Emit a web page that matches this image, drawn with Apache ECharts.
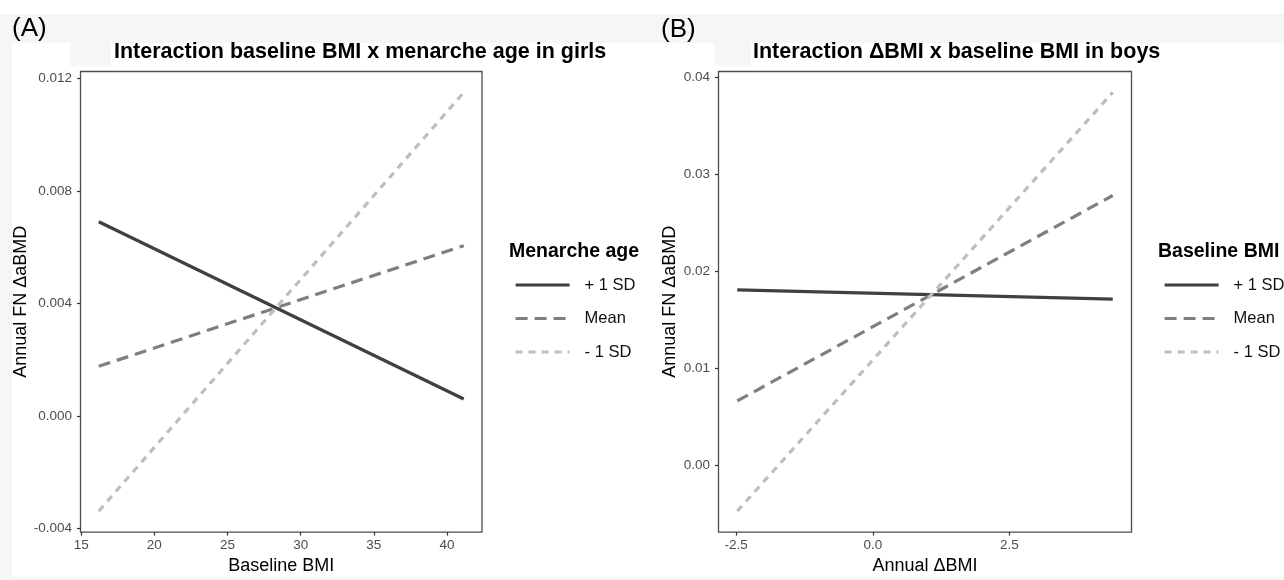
<!DOCTYPE html>
<html><head><meta charset="utf-8">
<script src="https://cdn.jsdelivr.net/npm/echarts@6/dist/echarts.min.js"></script>
<style>html,body{margin:0;padding:0;background:#fff;} #c{width:1284px;height:580px;}</style>
</head><body><div id="c"></div>
<script>
// ---- data ----
const seriesNames = ['+ 1 SD', 'Mean', '- 1 SD'];
// Panel A: baseline BMI x menarche age (girls)
const aX = [16.2, 41.15];
const aPlus = [0.0069, 0.0006];
const aMean = [0.00176, 0.00605];
const aMinus = [-0.00339, 0.0115];
const aXTicks = [15, 20, 25, 30, 35, 40];
const aYTicks = [-0.004, 0, 0.004, 0.008, 0.012];
// Panel B: delta BMI x baseline BMI (boys)
const bX = [-2.48, 4.39];
const bPlus = [0.0181, 0.01714];
const bMean = [0.00665, 0.02783];
const bMinus = [-0.00472, 0.03846];
const bXTicks = [-2.5, 0, 2.5];
const bYTicks = [0, 0.01, 0.02, 0.03, 0.04];

const FONT = '"Liberation Sans", Arial, Helvetica, sans-serif';
function expand(arrs) {
  const all = [].concat(...arrs);
  const mn = Math.min(...all), mx = Math.max(...all), r = mx - mn;
  return [mn - 0.05 * r, mx + 0.05 * r];
}
const styles = [
  { color: '#404040', width: 3.2, type: 'solid' },
  { color: '#7f7f7f', width: 3.2, type: [12, 7] },
  { color: '#bebebe', width: 3.2, type: [7, 6] }
];
function mkSeries(idx, xs, ys) {
  return ys.map((arr, k) => ({
    name: seriesNames[k], type: 'line', xAxisIndex: idx, yAxisIndex: idx,
    symbol: 'none', silent: true, animation: false,
    lineStyle: { color: styles[k].color, width: styles[k].width, type: styles[k].type, cap: 'butt' },
    itemStyle: { color: styles[k].color },
    data: xs.map((v, i) => [v, arr[i]])
  }));
}
function mkX(idx, range, ticks, name, dec) {
  return {
    gridIndex: idx, type: 'value', min: range[0], max: range[1],
    axisLine: { show: false, onZero: false }, splitLine: { show: false },
    axisTick: { show: true, length: 3.5, lineStyle: { color: '#333', width: 1.2 }, customValues: ticks },
    axisLabel: { customValues: ticks, formatter: v => Number(v).toFixed(dec), color: '#4d4d4d', fontSize: 13.5, margin: 6, fontFamily: FONT },
    name: name, nameLocation: 'middle', nameGap: 24,
    nameTextStyle: { fontSize: 18, color: '#000', fontFamily: FONT }
  };
}
function mkY(idx, range, ticks, name, dec, gap) {
  return {
    gridIndex: idx, type: 'value', min: range[0], max: range[1],
    axisLine: { show: false, onZero: false }, splitLine: { show: false },
    axisTick: { show: true, length: 3.5, lineStyle: { color: '#333', width: 1.2 }, customValues: ticks },
    axisLabel: { customValues: ticks, formatter: v => Number(v).toFixed(dec), color: '#4d4d4d', fontSize: 13.5, margin: 8.5, fontFamily: FONT },
    name: name, nameLocation: 'middle', nameGap: gap,
    nameTextStyle: { fontSize: 18, color: '#000', fontFamily: FONT }
  };
}
function mkLegend(left) {
  return {
    data: seriesNames, orient: 'vertical', left: left, top: 275, padding: 0,
    itemWidth: 54, itemHeight: 20, itemGap: 13.5, selectedMode: false,
    lineStyle: { width: 3.2 },
    itemStyle: { opacity: 0, borderWidth: 0 },
    textStyle: { fontSize: 16.5, color: '#111', fontFamily: FONT, lineHeight: 20, padding: [0, 0, 0, 10] }
  };
}
const gridBase = { show: true, borderColor: '#4d4d4d', borderWidth: 1.3, backgroundColor: '#fff', containLabel: false };
const titleTS = (sz, bold) => ({ fontSize: sz, fontWeight: bold ? 'bold' : 'normal', color: '#000', fontFamily: FONT });
const GRAY = '#f6f6f6';

const option = {
  animation: false,
  backgroundColor: '#fff',
  graphic: [
    { type: 'rect', silent: true, z: -10, shape: { x: 0, y: 14, width: 1284, height: 29 }, style: { fill: GRAY } },
    { type: 'rect', silent: true, z: -10, shape: { x: 0, y: 43, width: 12, height: 537 }, style: { fill: GRAY } },
    { type: 'rect', silent: true, z: -10, shape: { x: 0, y: 577, width: 1284, height: 3 }, style: { fill: GRAY } },
    { type: 'rect', silent: true, z: -10, shape: { x: 70, y: 43, width: 41, height: 23 }, style: { fill: GRAY } },
    { type: 'rect', silent: true, z: -10, shape: { x: 714, y: 43, width: 37, height: 23 }, style: { fill: GRAY } }
  ],
  title: [
    { text: '(A)', left: 12, top: 16, padding: 0, textStyle: titleTS(26, false) },
    { text: '(B)', left: 661, top: 17, padding: 0, textStyle: titleTS(26, false) },
    { text: 'Interaction baseline BMI x menarche age in girls', left: 114, top: 41.5, padding: 0, textStyle: titleTS(21.5, true) },
    { text: 'Interaction \u0394BMI x baseline BMI in boys', left: 753, top: 41.5, padding: 0, textStyle: titleTS(21.5, true) },
    { text: 'Menarche age', left: 509, top: 242, padding: 0, textStyle: titleTS(19.5, true) },
    { text: 'Baseline BMI', left: 1158, top: 242, padding: 0, textStyle: titleTS(19.5, true) }
  ],
  grid: [
    Object.assign({ left: 80.5, top: 71.5, width: 401.5, height: 467.5 }, gridBase),
    Object.assign({ left: 718.5, top: 71.5, width: 413, height: 467.5 }, gridBase)
  ],
  xAxis: [
    mkX(0, expand([aX]), aXTicks, 'Baseline BMI', 0),
    mkX(1, expand([bX]), bXTicks, 'Annual \u0394BMI', 1)
  ],
  yAxis: [
    mkY(0, expand([aPlus, aMean, aMinus]), aYTicks, 'Annual FN \u0394aBMD', 3, 48),
    mkY(1, expand([bPlus, bMean, bMinus]), bYTicks, 'Annual FN \u0394aBMD', 2, 39)
  ],
  legend: [mkLegend(514), mkLegend(1163)],
  series: [].concat(mkSeries(0, aX, [aPlus, aMean, aMinus]), mkSeries(1, bX, [bPlus, bMean, bMinus]))
};
const chart = echarts.init(document.getElementById('c'), null, { renderer: 'canvas' });
chart.setOption(option);
</script>
</body></html>
